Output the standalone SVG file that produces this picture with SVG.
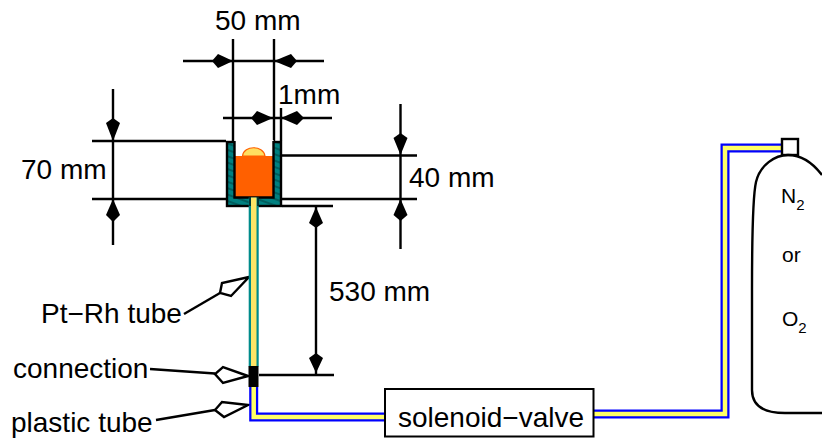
<svg xmlns="http://www.w3.org/2000/svg" width="822" height="439" viewBox="0 0 822 439">
<style>
text{font-family:"Liberation Sans",Arial,sans-serif;fill:#000}
.t{font-size:28px}
.s{font-size:21px}
.sub{font-size:15px}
.l{fill:none;stroke:#000;stroke-width:2.4}
.h{fill:#000;stroke:none}
.o{fill:#fff;stroke:#000;stroke-width:2.4}
.bl{fill:none;stroke:#0000ff;stroke-width:9;stroke-linejoin:miter}
.ye{fill:none;stroke:#ffff66;stroke-width:4.5;stroke-linejoin:miter}
</style>
<defs>
<pattern id="hatch" width="6" height="6" patternUnits="userSpaceOnUse" patternTransform="rotate(20)">
<rect width="6" height="6" fill="#008080"/><line x1="0" y1="3" x2="6" y2="3" stroke="#003c3c" stroke-width="1"/>
</pattern>
</defs>
<g id="connectors">
<g id="dim-50">
<path class="l" d="M233 39V141M274 39V141M183 61H324"/>
<path class="h" d="M233 61L218 54L212 61L218 68Z"/>
<path class="h" d="M274 61L291 54L297 61L291 68Z"/>
</g>
<g id="dim-1">
<path class="l" d="M223 118H332M281 108V141"/>
<path class="h" d="M273 118L257 111L251 118L257 125Z"/>
<path class="h" d="M281 118L297 111L304 118L297 125Z"/>
</g>
<g id="dim-70">
<path class="l" d="M92 141H226M92 199H226M113 89V245"/>
<path class="h" d="M113 141L106 123L113 118L120 123Z"/>
<path class="h" d="M113 199L106 215L113 222L120 215Z"/>
</g>
<g id="dim-40">
<path class="l" d="M282 155.500H417M282 199H417M400.500 104V249"/>
<path class="h" d="M400.500 155L393.500 138L400.500 133L407.500 138Z"/>
<path class="h" d="M400.500 199L393.500 215L400.500 221L407.500 215Z"/>
</g>
<g id="dim-530">
<path class="l" d="M282 206H333M316 207V374M259 375H334"/>
<path class="h" d="M316 207L309 223L316 228L323 223Z"/>
<path class="h" d="M316 373L309 358L316 353L323 358Z"/>
</g>
<g id="leaders">
<path class="l" d="M184 314L220 293"/>
<path class="o" d="M249 277L222 283L220 293L231 296Z"/>
<path class="l" d="M150 369L215 373.500"/>
<path class="o" d="M248 376L223 367L215 374L223 383Z"/>
<path class="l" d="M156 420L215 410"/>
<path class="o" d="M248 405L222 402L215 410L224 417Z"/>
</g>
<g id="pipes">
<path class="bl" d="M253.700 387V417H385"/>
<path class="ye" d="M253.700 387V417H385"/>
<path class="bl" d="M594 414H725V148H781"/>
<path class="ye" d="M594 414H725V148H781"/>
</g>
</g>
<g id="crucible">
<rect x="227" y="142" width="54" height="64" fill="url(#hatch)" stroke="#000" stroke-width="2.400"/>
<rect x="234.500" y="140" width="39" height="58" fill="#fff" stroke="none"/>
<rect x="234.500" y="156" width="39" height="41.500" fill="#ff6000"/>
<path d="M242.500 156C244 145 263 145 265 156Z" fill="#ffdf60" stroke="#ff6000" stroke-width="1.200"/>
<path d="M234.500 141V197.500H273.500V141" fill="none" stroke="#000" stroke-width="2.400"/>
</g>
<g id="pt-rh-tube">
<rect x="248.700" y="197.500" width="10" height="169" fill="#008b8b"/>
<rect x="251" y="197.500" width="5.500" height="169" fill="#ffe566"/>
<path d="M250 197.500V206M258 197.500V206" stroke="#000" stroke-width="1.200" fill="none"/>
</g>
<g id="connection"><rect x="248.500" y="366" width="10" height="21" fill="#000"/></g>
<g id="solenoid-valve">
<rect x="385" y="389" width="208.500" height="47.500" fill="#fff" stroke="#000" stroke-width="2"/>
<text class="t" x="398" y="427">solenoid−valve</text>
</g>
<g id="cylinder">
<rect x="782" y="139" width="16" height="16" fill="#fff" stroke="#000" stroke-width="2.400"/>
<path d="M822 175C812 162 800 155 788 155C775 155 760 165 756 182C753 195 752 240 752 290V390C752 405 762 413 785 413H822" fill="none" stroke="#000" stroke-width="2.400"/>
<text class="s" x="781" y="203">N<tspan class="sub" dy="7">2</tspan></text>
<text class="s" x="782" y="262">or</text>
<text class="s" x="782" y="326">O<tspan class="sub" dy="7">2</tspan></text>
</g>
<g id="labels">
<text class="t" x="215" y="30">50 mm</text>
<text class="t" x="278" y="104">1mm</text>
<text class="t" x="21" y="179">70 mm</text>
<text class="t" x="409" y="187">40 mm</text>
<text class="t" x="329" y="301">530 mm</text>
<text class="t" x="41" y="323">Pt−Rh tube</text>
<text class="t" x="13" y="378">connection</text>
<text class="t" x="11" y="432">plastic tube</text>
</g>
</svg>
